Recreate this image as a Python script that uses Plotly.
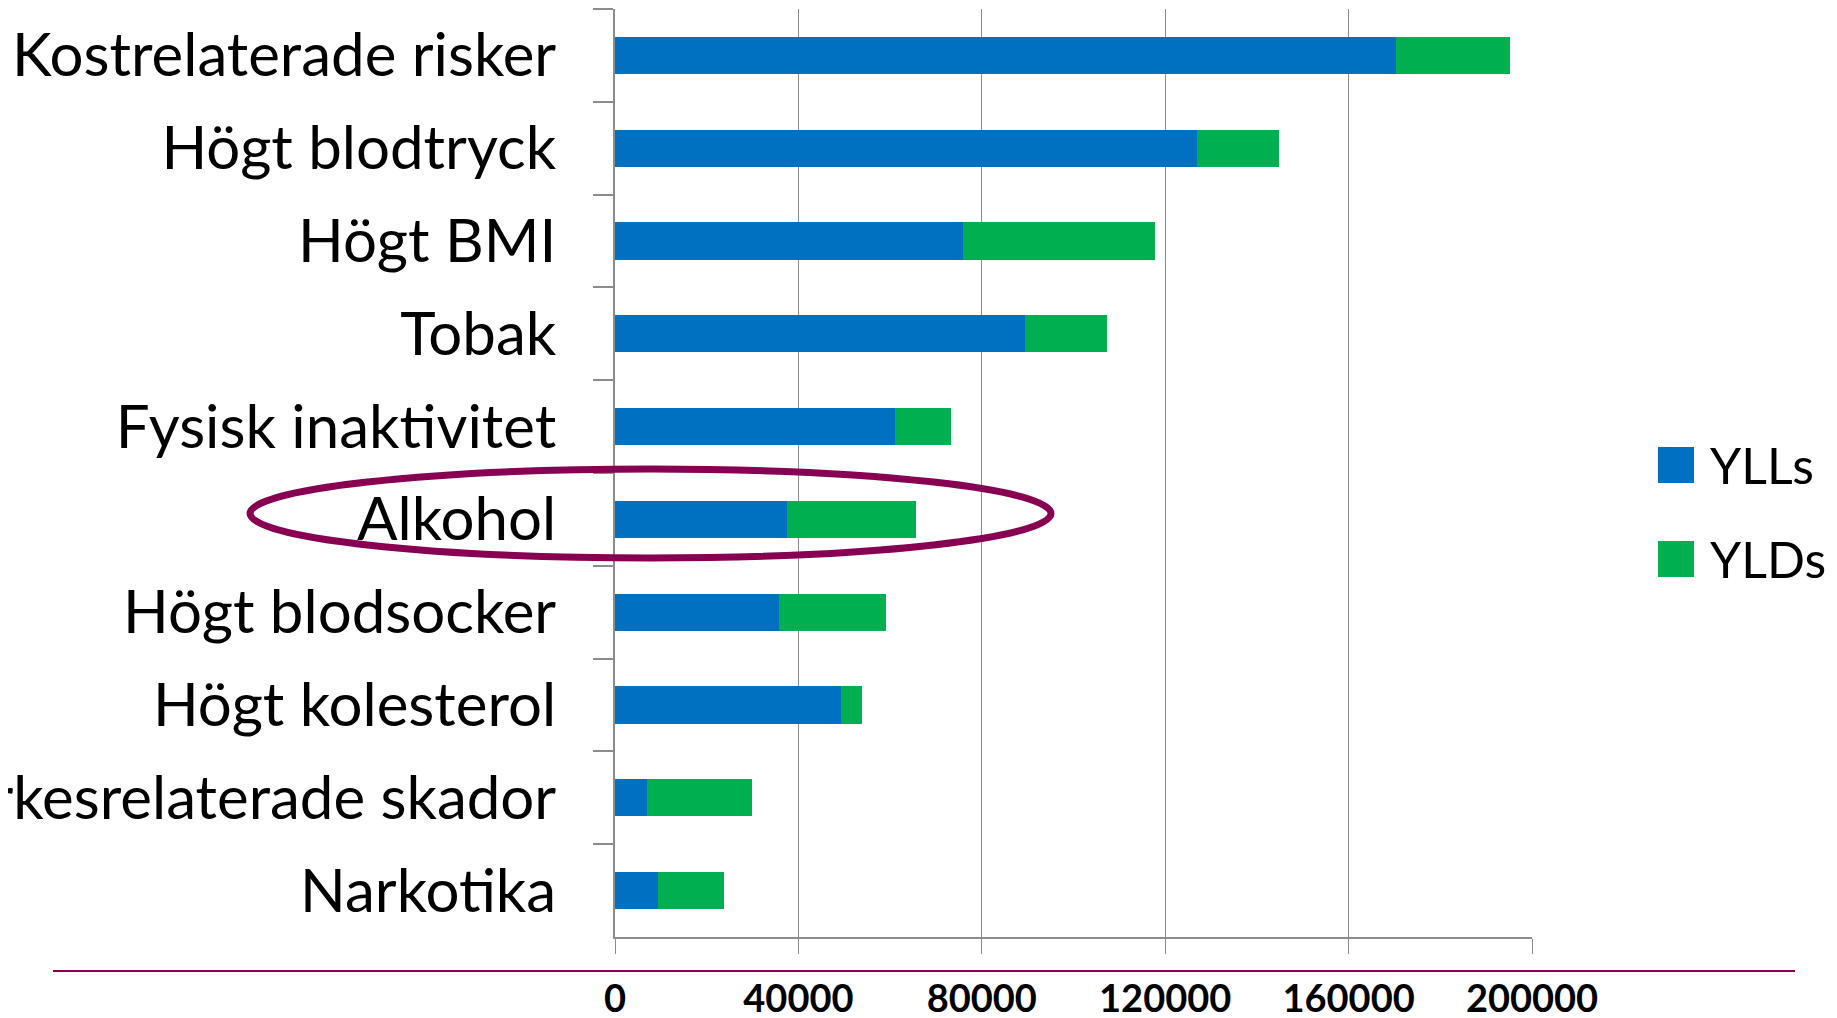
import plotly.graph_objects as go

categories = ["Kostrelaterade risker", "Högt blodtryck", "Högt BMI", "Tobak",
              "Fysisk inaktivitet", "Alkohol", "Högt blodsocker", "Högt kolesterol",
              "Yrkesrelaterade skador", "Narkotika"]
ylls = [170300, 127000, 76000, 89500, 61000, 37600, 35800, 49300, 7000, 9400]
ylds = [25000, 17800, 41800, 17700, 12200, 28000, 23400, 4600, 22800, 14400]
x_ticks = [0, 40000, 80000, 120000, 160000, 200000]
series_names = ["YLLs", "YLDs"]
colors = ["#0070C0", "#00B050"]
accent = "#870052"
axis_gray = "#8c8c8c"

# page body has an 8px margin, so the figure is drawn 8px in from the corner
OFF = 8
W, H = 1837 - OFF, 1018 - OFF
L, R, T, B = 615 - OFF, 305, 9 - OFF, 81
PW, PH = W - L - R, H - T - B


def px_x(p):
    return (p - OFF - L) / PW


def px_y(p):
    return (H - B - (p - OFF)) / PH


fig = go.Figure()
for name, vals, col in zip(series_names, [ylls, ylds], colors):
    fig.add_trace(go.Bar(y=categories, x=vals, orientation="h", name=name,
                         marker=dict(color=col, line=dict(width=0)), showlegend=False))

fig.update_layout(
    width=W, height=H,
    barmode="stack", bargap=0.6,
    margin=dict(l=L, r=R, t=T, b=B, autoexpand=False),
    paper_bgcolor="white", plot_bgcolor="white",
    font=dict(family="Lato", color="black"),
)
fig.update_xaxes(
    range=[0, 200000], tickvals=x_ticks, tickformat="d",
    showgrid=True, gridcolor=axis_gray, gridwidth=1.4,
    showline=True, linecolor=axis_gray, linewidth=1.6,
    ticks="outside", ticklen=15, tickwidth=1.4, tickcolor=axis_gray,
    zeroline=False, ticklabelstandoff=13,
    tickfont=dict(family="Lato", size=38, color="black", weight="bold"),
)
fig.update_yaxes(
    autorange="reversed", type="category", tickson="boundaries",
    showline=True, linecolor=axis_gray, linewidth=1.6,
    ticks="outside", ticklen=20, tickwidth=1.6, tickcolor=axis_gray,
    showgrid=False, ticklabelstandoff=45,
    tickfont=dict(family="Lato", size=60, color="black"),
)

shapes = [
    dict(type="circle", xref="paper", yref="paper",
         x0=px_x(250), x1=px_x(1051), y0=px_y(558), y1=px_y(469),
         line=dict(color=accent, width=7)),
    dict(type="line", xref="paper", yref="paper",
         x0=px_x(53), x1=px_x(1795), y0=px_y(971), y1=px_y(971),
         line=dict(color=accent, width=2)),
]
legend_centers = [465, 559]
annotations = []
for name, col, cy in zip(series_names, colors, legend_centers):
    shapes.append(dict(type="rect", xref="paper", yref="paper",
                       x0=px_x(1658), x1=px_x(1694), y0=px_y(cy + 18), y1=px_y(cy - 18),
                       fillcolor=col, line=dict(width=0)))
    annotations.append(dict(text=name, xref="paper", yref="paper",
                            x=px_x(1708), y=px_y(cy), xanchor="left", yanchor="middle",
                            showarrow=False, font=dict(family="Lato", size=50, color="black")))
fig.update_layout(shapes=shapes, annotations=annotations)

fig.write_html("out.html")
